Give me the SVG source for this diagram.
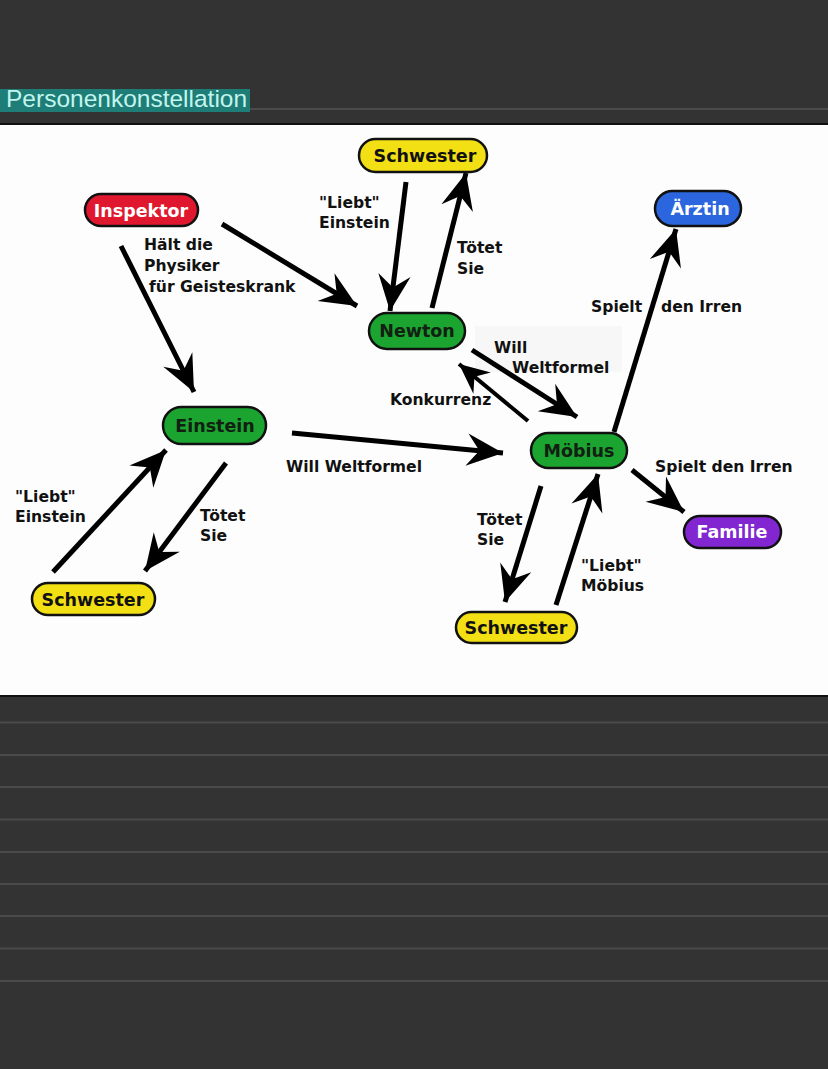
<svg xmlns="http://www.w3.org/2000/svg" width="828" height="1069" viewBox="0 0 828 1069">
<defs>
<style>
.pill{stroke:#111;stroke-width:2.5}
.nt{font-family:"DejaVu Sans",Verdana,sans-serif;font-weight:bold;font-size:17.5px;text-anchor:middle}
.lb{font-family:"DejaVu Sans",Verdana,sans-serif;font-weight:bold;font-size:15.6px;fill:#111}
.ar{stroke:#000;stroke-width:5;fill:none;marker-end:url(#ah)}
.ar2{stroke:#000;stroke-width:4;fill:none;marker-end:url(#ah2)}
.rule{stroke:#4a4a4a;stroke-width:2}
</style>
<marker id="ah" markerUnits="userSpaceOnUse" markerWidth="40" markerHeight="40" viewBox="-30 -15 32 30" refX="0" refY="0" orient="auto">
<path d="M0,0 L-29,-13 L-19,0 L-29,13 Z" fill="#000"/>
</marker>
<marker id="ah2" markerUnits="userSpaceOnUse" markerWidth="40" markerHeight="40" viewBox="-30 -15 32 30" refX="0" refY="0" orient="auto">
<path d="M0,0 L-24,-11 L-16,0 L-24,11 Z" fill="#000"/>
</marker>
</defs>
<rect x="0" y="0" width="828" height="1069" fill="#333333"/>
<g id="header">
<rect x="0" y="89" width="250" height="23" fill="#1e7d76"/>
<line x1="250" y1="109" x2="828" y2="109" class="rule"/>
<text x="6" y="107" font-family="Liberation Sans,Arial,sans-serif" font-size="24.5px" fill="#c2f5ee">Personenkonstellation</text>
</g>
<rect x="0" y="123" width="828" height="574" fill="#fdfdfd"/>
<line x1="0" y1="124" x2="828" y2="124" stroke="#111" stroke-width="2"/>
<line x1="0" y1="696" x2="828" y2="696" stroke="#111" stroke-width="2"/>
<rect x="475" y="326" width="147" height="46" fill="#f7f7f7"/>
<g id="rules">
<line x1="0" y1="722.5" x2="828" y2="722.5" class="rule"/>
<line x1="0" y1="755" x2="828" y2="755" class="rule"/>
<line x1="0" y1="787" x2="828" y2="787" class="rule"/>
<line x1="0" y1="819.5" x2="828" y2="819.5" class="rule"/>
<line x1="0" y1="852" x2="828" y2="852" class="rule"/>
<line x1="0" y1="884" x2="828" y2="884" class="rule"/>
<line x1="0" y1="916" x2="828" y2="916" class="rule"/>
<line x1="0" y1="948.5" x2="828" y2="948.5" class="rule"/>
<line x1="0" y1="981" x2="828" y2="981" class="rule"/>
</g>
<g id="connectors">
<line class="ar" x1="222" y1="224" x2="357" y2="306"/>
<line class="ar" x1="121" y1="246" x2="194" y2="392"/>
<line class="ar" x1="406" y1="182" x2="390" y2="311"/>
<line class="ar" x1="432" y1="308" x2="466" y2="173"/>
<line class="ar" x1="472" y1="350" x2="577" y2="417"/>
<line class="ar2" x1="528" y1="421" x2="459" y2="364"/>
<line class="ar" x1="292" y1="433" x2="503" y2="453"/>
<line class="ar" x1="614" y1="432" x2="676" y2="229"/>
<line class="ar" x1="632" y1="470" x2="684" y2="512"/>
<line class="ar" x1="541" y1="486" x2="505" y2="602"/>
<line class="ar" x1="556" y1="605" x2="598" y2="474"/>
<line class="ar" x1="226" y1="463" x2="145" y2="571"/>
<line class="ar" x1="53" y1="572" x2="166" y2="450"/>
</g>
<g id="labels">
<text class="lb" x="319" y="208">"Liebt"</text>
<text class="lb" x="319" y="228">Einstein</text>
<text class="lb" x="457" y="253">Tötet</text>
<text class="lb" x="457" y="274">Sie</text>
<text class="lb" x="144" y="250">Hält die</text>
<text class="lb" x="144" y="271">Physiker</text>
<text class="lb" x="149" y="292">für Geisteskrank</text>
<text class="lb" x="494" y="353">Will</text>
<text class="lb" x="512" y="373">Weltformel</text>
<text class="lb" x="390" y="405">Konkurrenz</text>
<text class="lb" x="286" y="472">Will Weltformel</text>
<text class="lb" x="591" y="312">Spielt</text>
<text class="lb" x="661" y="312">den Irren</text>
<text class="lb" x="655" y="472">Spielt den Irren</text>
<text class="lb" x="15" y="502">"Liebt"</text>
<text class="lb" x="15" y="522">Einstein</text>
<text class="lb" x="200" y="521">Tötet</text>
<text class="lb" x="200" y="541">Sie</text>
<text class="lb" x="477" y="525">Tötet</text>
<text class="lb" x="477" y="545">Sie</text>
<text class="lb" x="581" y="571">"Liebt"</text>
<text class="lb" x="581" y="591">Möbius</text>
</g>
<g id="schwester-top">
<rect class="pill" x="359" y="139" width="128" height="33" rx="16.5" fill="#f2e014"/>
<text class="nt" x="425" y="162" fill="#111">Schwester</text>
</g>
<g id="inspektor">
<rect class="pill" x="85" y="194" width="113" height="32" rx="16" fill="#e0182f"/>
<text class="nt" x="141" y="217" fill="#fff">Inspektor</text>
</g>
<g id="aerztin">
<rect class="pill" x="655" y="191" width="86" height="35" rx="17.5" fill="#2c66de"/>
<text class="nt" x="700" y="215" fill="#fff">Ärztin</text>
</g>
<g id="newton">
<rect class="pill" x="369" y="313" width="96" height="36" rx="18" fill="#1ca431"/>
<text class="nt" x="417" y="337" fill="#122012">Newton</text>
</g>
<g id="einstein">
<rect class="pill" x="163" y="407" width="103" height="37" rx="18.5" fill="#1ca431"/>
<text class="nt" x="215" y="432" fill="#122012">Einstein</text>
</g>
<g id="moebius">
<rect class="pill" x="531" y="433" width="96" height="35" rx="17.5" fill="#1ca431"/>
<text class="nt" x="579" y="457" fill="#122012">Möbius</text>
</g>
<g id="familie">
<rect class="pill" x="684" y="516" width="97" height="32" rx="16" fill="#8226d2"/>
<text class="nt" x="732" y="538" fill="#fff">Familie</text>
</g>
<g id="schwester-left">
<rect class="pill" x="32" y="583" width="123" height="32" rx="16" fill="#f2e014"/>
<text class="nt" x="93" y="606" fill="#111">Schwester</text>
</g>
<g id="schwester-bottom">
<rect class="pill" x="456" y="612" width="121" height="31" rx="15.5" fill="#f2e014"/>
<text class="nt" x="516" y="634" fill="#111">Schwester</text>
</g>
</svg>
